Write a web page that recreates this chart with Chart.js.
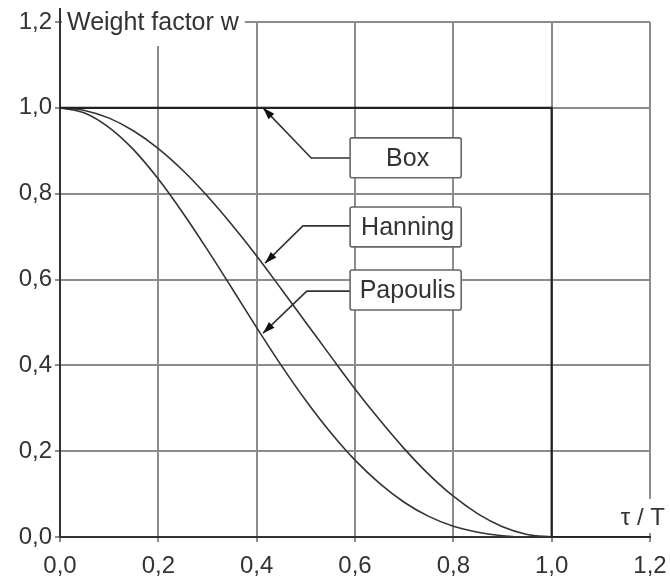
<!DOCTYPE html>
<html>
<head>
<meta charset="utf-8">
<script src="https://cdn.jsdelivr.net/npm/chart.js@4.4.1/dist/chart.umd.min.js"></script>
<style>
  html, body { margin: 0; padding: 0; background: #fff; }
  #wrap { width: 670px; height: 582px; }
</style>
</head>
<body>
<div id="wrap"><canvas id="c" width="670" height="582"></canvas></div>
<script>
// Lag axis tau/T and the three weight windows
const tau      = [0.00, 0.05, 0.10, 0.15, 0.20, 0.25, 0.30, 0.35, 0.40, 0.45, 0.50,
                  0.55, 0.60, 0.65, 0.70, 0.75, 0.80, 0.85, 0.90, 0.95, 1.00];
const hanning  = [1.000, 0.994, 0.976, 0.946, 0.905, 0.854, 0.794, 0.727, 0.655, 0.578, 0.500,
                  0.422, 0.345, 0.273, 0.206, 0.146, 0.095, 0.054, 0.024, 0.006, 0.000];
const papoulis = [1.000, 0.988, 0.954, 0.902, 0.834, 0.755, 0.669, 0.579, 0.488, 0.400, 0.318,
                  0.244, 0.179, 0.125, 0.081, 0.048, 0.025, 0.011, 0.003, 0.000, 0.000];
const boxTau   = [0.0, 1.0, 1.0, 1.2];
const boxW     = [1.0, 1.0, 0.0, 0.0];

const xTicks = [0.0, 0.2, 0.4, 0.6, 0.8, 1.0, 1.2];
const yTicks = [0.0, 0.2, 0.4, 0.6, 0.8, 1.0, 1.2];

const yTitle = 'Weight factor w';
const xTitle = 'τ / T';

// Callout labels: arrow tip, elbow and box extent (x0, x1, yTop, yBottom), in data units
const callouts = [
  { text: 'Box',      tip: [0.413, 1.000], elbow: [0.511, 0.883], box: [0.590, 0.816, 0.930, 0.837] },
  { text: 'Hanning',  tip: [0.417, 0.638], elbow: [0.494, 0.725], box: [0.590, 0.816, 0.769, 0.676] },
  { text: 'Papoulis', tip: [0.413, 0.475], elbow: [0.502, 0.573], box: [0.590, 0.816, 0.622, 0.529] }
];

const FONT = '"Liberation Sans", Arial, Helvetica, sans-serif';
const INK = '#333333';
const GRID = '#8c8c8c';

const fmt = v => v.toFixed(1).replace('.', ',');
const pts = (xs, ys) => xs.map((x, i) => ({ x: x, y: ys[i] }));

const decor = {
  id: 'decor',
  afterDraw(chart) {
    const ctx = chart.ctx;
    const xs = chart.scales.x, ys = chart.scales.y;
    const ca = chart.chartArea;
    const px = v => xs.getPixelForValue(v);
    const py = v => ys.getPixelForValue(v);

    ctx.save();
    // axis stub above the top tick
    ctx.strokeStyle = INK;
    ctx.lineWidth = 2;
    ctx.beginPath();
    ctx.moveTo(ca.left, ca.top);
    ctx.lineTo(ca.left, ca.top - 14);
    ctx.stroke();

    // y-axis title sitting on the top grid line
    ctx.font = '25px ' + FONT;
    ctx.textBaseline = 'middle';
    ctx.textAlign = 'left';
    const tw = ctx.measureText(yTitle).width;
    ctx.fillStyle = '#fff';
    ctx.fillRect(ca.left + 2, 0, tw + 11, ca.top + 24);
    ctx.fillStyle = INK;
    ctx.fillText(yTitle, ca.left + 7, ca.top + 1);

    // x-axis title in the lower right corner
    ctx.font = '24px ' + FONT;
    const xw = ctx.measureText(xTitle).width;
    ctx.fillStyle = '#fff';
    ctx.fillRect(ca.right - xw + 8, ca.bottom - 38, xw + 20, 34);
    ctx.fillStyle = INK;
    ctx.textAlign = 'left';
    ctx.fillText(xTitle, ca.right - xw + 15, ca.bottom - 19);

    // callouts
    callouts.forEach(c => {
      const tx = px(c.tip[0]), ty = py(c.tip[1]);
      const ex = px(c.elbow[0]), ey = py(c.elbow[1]);
      const bx0 = px(c.box[0]), bx1 = px(c.box[1]);
      const by0 = py(c.box[2]), by1 = py(c.box[3]);
      ctx.strokeStyle = INK;
      ctx.lineWidth = 1.6;
      ctx.beginPath();
      ctx.moveTo(bx0, ey);
      ctx.lineTo(ex, ey);
      ctx.lineTo(tx, ty);
      ctx.stroke();
      // arrow head
      const ang = Math.atan2(ty - ey, tx - ex);
      const L = 12, W = 4;
      ctx.fillStyle = '#111';
      ctx.beginPath();
      ctx.moveTo(tx, ty);
      ctx.lineTo(tx - L * Math.cos(ang) + W * Math.sin(ang), ty - L * Math.sin(ang) - W * Math.cos(ang));
      ctx.lineTo(tx - L * Math.cos(ang) - W * Math.sin(ang), ty - L * Math.sin(ang) + W * Math.cos(ang));
      ctx.closePath();
      ctx.fill();
      // label box
      ctx.fillStyle = '#fff';
      ctx.strokeStyle = '#666';
      ctx.lineWidth = 1.6;
      ctx.beginPath();
      ctx.roundRect(bx0, by0, bx1 - bx0, by1 - by0, 2);
      ctx.fill();
      ctx.stroke();
      ctx.fillStyle = INK;
      ctx.font = '25px ' + FONT;
      ctx.textAlign = 'center';
      ctx.textBaseline = 'middle';
      ctx.fillText(c.text, (bx0 + bx1) / 2 + 2, (by0 + by1) / 2 + 1);
    });
    ctx.restore();
  }
};

const lineStyle = { borderColor: INK, borderWidth: 1.6, pointRadius: 0, fill: false, cubicInterpolationMode: 'monotone' };

new Chart(document.getElementById('c'), {
  type: 'line',
  data: {
    datasets: [
      { label: 'Box', data: pts(boxTau, boxW), borderWidth: 2.2, borderColor: '#222', pointRadius: 0, fill: false, tension: 0 },
      Object.assign({ label: 'Hanning',  data: pts(tau, hanning) }, lineStyle),
      Object.assign({ label: 'Papoulis', data: pts(tau, papoulis) }, lineStyle)
    ]
  },
  options: {
    responsive: false,
    devicePixelRatio: 1,
    animation: false,
    events: [],
    layout: { padding: { top: 22, right: 20, left: 0, bottom: 0 } },
    plugins: { legend: { display: false }, tooltip: { enabled: false } },
    scales: {
      x: {
        type: 'linear', min: 0, max: 1.2,
        afterBuildTicks: s => { s.ticks = xTicks.map(v => ({ value: v })); },
        afterFit: s => { s.height = 45; s.paddingLeft = 0; s.paddingRight = 0; },
        ticks: { callback: v => fmt(v), color: INK, font: { family: FONT, size: 24 }, padding: 10, maxRotation: 0 },
        grid: { color: GRID, lineWidth: 2, tickLength: 5, drawTicks: true },
        border: { display: true, color: INK, width: 2 }
      },
      y: {
        type: 'linear', min: 0, max: 1.2,
        afterBuildTicks: s => { s.ticks = yTicks.map(v => ({ value: v })); },
        afterFit: s => { s.width = 60; s.paddingTop = 0; s.paddingBottom = 0; },
        ticks: { callback: v => fmt(v), color: INK, font: { family: FONT, size: 24 }, padding: 3 },
        grid: { color: GRID, lineWidth: 2, tickLength: 5, drawTicks: true },
        border: { display: true, color: INK, width: 2 }
      }
    }
  },
  plugins: [decor]
});
</script>
</body>
</html>
